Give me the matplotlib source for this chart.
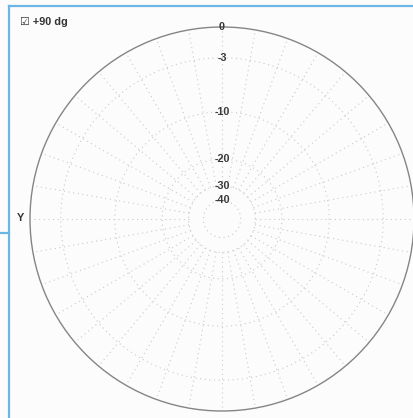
import numpy as np
import matplotlib
matplotlib.use("Agg")
import matplotlib.pyplot as plt
from matplotlib.lines import Line2D

plt.rcParams['font.family'] = ['Liberation Sans', 'DejaVu Sans']

# Ring levels (dB) and their labels on the ARRL-style log grid
ring_levels = [-3, -10, -20, -30, -40]
ring_labels = ["-3", "-10", "-20", "-30", "-40"]
outer_level = 0
outer_label = "0"
spoke_angles_deg = list(range(0, 360, 10))
spoke_inner_level = -30
title_text = "\u2611 +90 dg"
axis_label = "Y"

W, H = 413, 418
fig = plt.figure(figsize=(W / 100, H / 100), dpi=100)
fig.patch.set_facecolor("#fcfcfc")


def fwd(db):
    db = np.asarray(db, dtype=float)
    return 0.89 ** (-db / 2.0)


def inv(r):
    r = np.asarray(r, dtype=float)
    return -2.0 * np.log(np.clip(r, 1e-300, None)) / np.log(0.89)


# polar axes: centre at (222, 219) px from top-left, radius 192 px
cx, cy, R = 222, 219, 192
ax = fig.add_axes([(cx - R) / W, (H - cy - R) / H, 2 * R / W, 2 * R / H],
                  projection="polar")
ax.set_facecolor("none")
ax.set_theta_zero_location("N")
ax.set_theta_direction(-1)
ax.set_rscale("function", functions=(fwd, inv))
ax.set_rlim(-200, outer_level)
ax.set_xticks([])
ax.set_yticks([])
ax.grid(False)
ax.spines["polar"].set_color("#858585")
ax.spines["polar"].set_linewidth(1.0)

grid_kw = dict(color="#c9c9c9", lw=0.8, linestyle=(0, (1, 3.2)))
theta = np.linspace(0, 2 * np.pi, 721)
for lvl in ring_levels:
    ax.plot(theta, np.full_like(theta, lvl), **grid_kw)
for a in spoke_angles_deg:
    t = np.deg2rad(a)
    ax.plot([t, t], [spoke_inner_level, outer_level], **grid_kw)

lab_kw = dict(ha="center", va="center", fontsize=7.8, color="#3a3a3a",
              fontweight="bold")
for lvl, lab in zip(ring_levels, ring_labels):
    ax.text(0, lvl, lab, **lab_kw)
ax.text(0, outer_level, outer_label, **lab_kw)

# header and axis name
fig.text(20 / W, 1 - 22 / H, title_text, ha="left", va="center",
         fontsize=7.8, color="#333333", fontweight="bold")
fig.text(20 / W, 1 - 218 / H, axis_label, ha="center", va="center",
         fontsize=7.8, color="#333333", fontweight="bold")

# panel frame
blue = "#6cb6e6"
fig.add_artist(Line2D([8.5 / W, 8.5 / W], [1 - 6 / H, 0], color=blue, lw=1.6,
                      transform=fig.transFigure))
fig.add_artist(Line2D([8.5 / W, 1], [1 - 6 / H, 1 - 6 / H], color=blue, lw=1.6,
                      transform=fig.transFigure))
fig.add_artist(Line2D([0, 8.5 / W], [1 - 233 / H, 1 - 233 / H], color=blue,
                      lw=1.6, transform=fig.transFigure))

fig.savefig("out.png", dpi=100, facecolor=fig.get_facecolor())
